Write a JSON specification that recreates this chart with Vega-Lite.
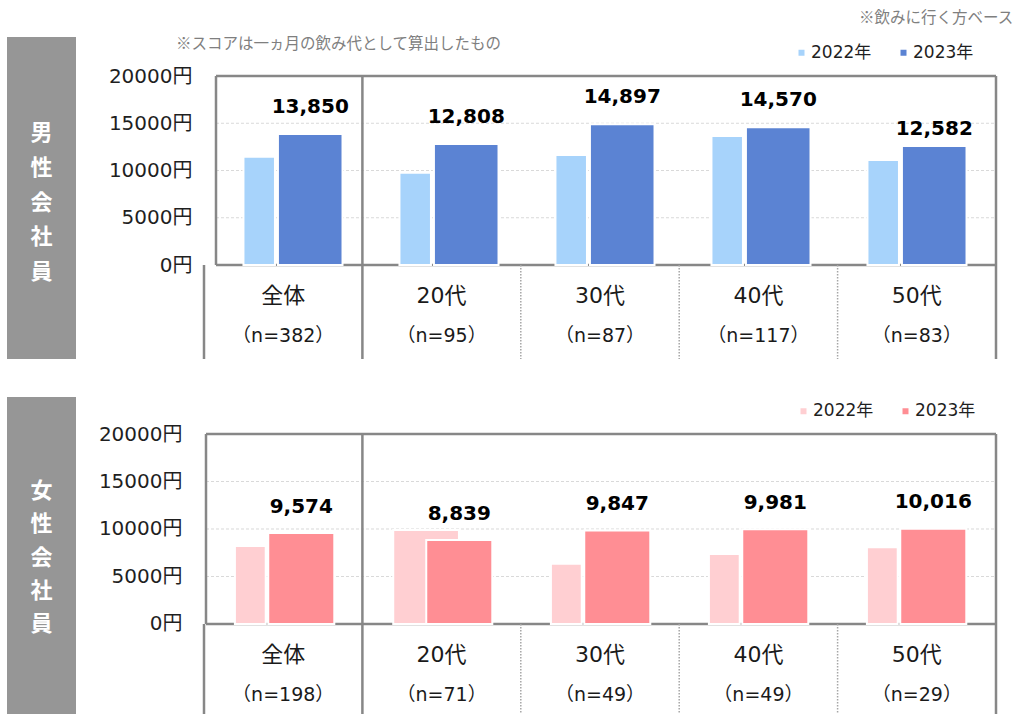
{
  "$schema": "https://vega.github.io/schema/vega-lite/v6.json",
  "autosize": {"type": "pad"},
  "padding": {"left": 7, "top": 11, "right": 5, "bottom": 0},
  "background": "white",
  "config": {
    "view": {"stroke": null},
    "title": {"font": "Noto Sans CJK JP", "fontSize": 15.5, "fontWeight": "normal", "color": "#7f7f7f"}
  },
  "title": {"text": "※飲みに行く方ベース", "anchor": "end", "dx": 16, "offset": 10},
  "datasets": {
    "male": [
      {"cat": "全体", "year": "2022年", "value": 11460},
      {"cat": "全体", "year": "2023年", "value": 13850},
      {"cat": "20代", "year": "2022年", "value": 9770},
      {"cat": "20代", "year": "2023年", "value": 12808},
      {"cat": "30代", "year": "2022年", "value": 11640},
      {"cat": "30代", "year": "2023年", "value": 14897},
      {"cat": "40代", "year": "2022年", "value": 13650},
      {"cat": "40代", "year": "2023年", "value": 14570},
      {"cat": "50代", "year": "2022年", "value": 11110},
      {"cat": "50代", "year": "2023年", "value": 12582}
    ],
    "female": [
      {"cat": "全体", "year": "2022年", "value": 8210},
      {"cat": "全体", "year": "2023年", "value": 9574},
      {"cat": "20代", "year": "2022年", "value": 9890},
      {"cat": "20代", "year": "2023年", "value": 8839},
      {"cat": "30代", "year": "2022年", "value": 6350},
      {"cat": "30代", "year": "2023年", "value": 9847},
      {"cat": "40代", "year": "2022年", "value": 7370},
      {"cat": "40代", "year": "2023年", "value": 9981},
      {"cat": "50代", "year": "2022年", "value": 8070},
      {"cat": "50代", "year": "2023年", "value": 10016}
    ],
    "maleCats": [
      {"cat": "全体", "nlabel": "（n=382）"},
      {"cat": "20代", "nlabel": "（n=95）"},
      {"cat": "30代", "nlabel": "（n=87）"},
      {"cat": "40代", "nlabel": "（n=117）"},
      {"cat": "50代", "nlabel": "（n=83）"}
    ],
    "femaleCats": [
      {"cat": "全体", "nlabel": "（n=198）"},
      {"cat": "20代", "nlabel": "（n=71）"},
      {"cat": "30代", "nlabel": "（n=49）"},
      {"cat": "40代", "nlabel": "（n=49）"},
      {"cat": "50代", "nlabel": "（n=29）"}
    ]
  },
  "spacing": 36,
  "resolve": {"scale": {"color": "independent"}},
  "vconcat": [
    {
      "hconcat": [
        {
          "width": 69, "height": 283,
          "data": {"values": [{"label": "男性会社員"}]},
          "transform": [{"calculate": "split(datum.label, '')", "as": "chars"}],
          "layer": [
            {"mark": {"type": "rect", "color": "#969696"},
             "encoding": {"y": {"datum": 24130, "type": "quantitative", "scale": {"domain": [-9947, 20000], "nice": false, "zero": false}, "axis": null}, "y2": {"datum": -9947}}},
            {"mark": {"type": "text", "font": "Noto Sans CJK JP", "fontSize": 22, "fontWeight": "bold", "color": "white", "lineHeight": 34.6, "baseline": "middle", "align": "center"},
             "encoding": {"y": {"datum": 13930, "type": "quantitative"}, "text": {"field": "chars", "type": "nominal"}}}
          ]
        },
        {
          "width": 792, "height": 283,
          "title": {"text": "※スコアは一ヵ月の飲み代として算出したもの", "anchor": "start", "frame": "group", "dx": -28, "dy": -13.5, "offset": 0},
          "resolve": {"scale": {"x": "independent"}},
          "layer": [
            {
              "data": {"name": "male"},
              "layer": [
                {"data": {"values": [{}]}, "mark": {"type": "rule", "color": "#d9d9d9", "strokeDash": [3, 2], "strokeWidth": 1},
                 "encoding": {
                   "y": {"datum": 5000, "type": "quantitative", "scale": {"domain": [-9947, 20000], "nice": false, "zero": false},
                         "axis": {"values": [0, 5000, 10000, 15000, 20000], "labelExpr": "datum.value + '円'", "domain": false, "ticks": false, "grid": false, "title": null, "labelPadding": 12, "labelFontSize": 20, "labelFont": "DejaVu Sans, Noto Sans CJK JP", "labelColor": "#1f1f1f"}},
                   "x": {"datum": "全体", "type": "nominal", "bandPosition": 0, "scale": {"type": "band", "domain": ["全体", "20代", "30代", "40代", "50代"], "paddingInner": 0, "paddingOuter": 0.03846, "align": 1}, "axis": null},
                   "x2": {"datum": "50代", "bandPosition": 1}}},
                {"data": {"values": [{}]}, "mark": {"type": "rule", "color": "#d9d9d9", "strokeDash": [3, 2], "strokeWidth": 1},
                 "encoding": {"y": {"datum": 10000, "type": "quantitative"}, "x": {"datum": "全体", "type": "nominal", "bandPosition": 0, "scale": {"type": "band"}}, "x2": {"datum": "50代", "bandPosition": 1}}},
                {"data": {"values": [{}]}, "mark": {"type": "rule", "color": "#d9d9d9", "strokeDash": [3, 2], "strokeWidth": 1},
                 "encoding": {"y": {"datum": 15000, "type": "quantitative"}, "x": {"datum": "全体", "type": "nominal", "bandPosition": 0, "scale": {"type": "band"}}, "x2": {"datum": "50代", "bandPosition": 1}}},
                {"data": {"values": [{}]}, "mark": {"type": "rule", "color": "#878787", "strokeWidth": 2.5},
                 "encoding": {"y": {"datum": 20000, "type": "quantitative"}, "x": {"datum": "全体", "type": "nominal", "bandPosition": 0, "scale": {"type": "band"}}, "x2": {"datum": "50代", "bandPosition": 1}}},
                {"data": {"values": [{}]}, "mark": {"type": "rule", "color": "#878787", "strokeWidth": 2.5},
                 "encoding": {"y": {"datum": 0, "type": "quantitative"}, "x": {"datum": "全体", "type": "nominal", "bandPosition": 0, "scale": {"type": "band"}}, "x2": {"datum": "50代", "bandPosition": 1}}},
                {"data": {"values": [{}]}, "mark": {"type": "rule", "color": "#878787", "strokeWidth": 2.5},
                 "encoding": {"x": {"datum": "全体", "type": "nominal", "bandPosition": 0, "scale": {"type": "band"}}, "y": {"datum": 0, "type": "quantitative"}, "y2": {"datum": 20000}}},
                {"transform": [{"filter": "datum.year === '2022年'"}],
                 "mark": {"type": "rect", "stroke": "white", "strokeWidth": 2},
                 "encoding": {
                   "x": {"field": "cat", "type": "nominal", "bandPosition": 0.176, "scale": {"type": "band"}},
                   "x2": {"field": "cat", "bandPosition": 0.378},
                   "y": {"field": "value", "type": "quantitative"}, "y2": {"datum": 0},
                   "color": {"field": "year", "type": "nominal", "scale": {"domain": ["2022年", "2023年"], "range": ["#A7D3FB", "#5B83D3"]},
                             "legend": {"orient": "none", "legendX": 786, "legendY": -32, "direction": "horizontal", "title": null, "symbolType": "square", "symbolSize": 36, "symbolStrokeWidth": 0, "labelFontSize": 17, "labelFont": "DejaVu Sans, Noto Sans CJK JP", "labelColor": "#1f1f1f", "labelOffset": 1, "columnPadding": 23, "padding": 0}}}},
                {"transform": [{"filter": "datum.year === '2023年'"}],
                 "mark": {"type": "rect", "stroke": "white", "strokeWidth": 2},
                 "encoding": {
                   "x": {"field": "cat", "type": "nominal", "bandPosition": 0.397, "scale": {"type": "band"}},
                   "x2": {"field": "cat", "bandPosition": 0.811},
                   "y": {"field": "value", "type": "quantitative"}, "y2": {"datum": 0},
                   "color": {"field": "year", "type": "nominal"}}},
                {"transform": [{"filter": "datum.year === '2023年' && datum.cat !== '50代'"}],
                 "mark": {"type": "text", "font": "DejaVu Sans", "fontSize": 20, "fontWeight": "bold", "color": "#000000", "baseline": "alphabetic", "dy": -21},
                 "encoding": {"x": {"field": "cat", "type": "nominal", "bandPosition": 0.604, "scale": {"type": "band"}}, "y": {"field": "value", "type": "quantitative"}, "text": {"field": "value", "type": "quantitative", "format": ","}}},
                {"transform": [{"filter": "datum.year === '2023年' && datum.cat === '50代'"}],
                 "mark": {"type": "text", "font": "DejaVu Sans", "fontSize": 20, "fontWeight": "bold", "color": "#000000", "baseline": "alphabetic", "dy": -11},
                 "encoding": {"x": {"field": "cat", "type": "nominal", "bandPosition": 0.604, "scale": {"type": "band"}}, "y": {"field": "value", "type": "quantitative"}, "text": {"field": "value", "type": "quantitative", "format": ","}}}
              ]
            },
            {
              "data": {"name": "maleCats"},
              "layer": [
                {"data": {"values": [{}]}, "mark": {"type": "rule", "color": "#878787", "strokeWidth": 2.5},
                 "encoding": {"x": {"datum": "全体", "type": "nominal", "bandPosition": 0, "scale": {"type": "band", "domain": ["全体", "20代", "30代", "40代", "50代"], "paddingInner": 0, "paddingOuter": 0}, "axis": null}, "y": {"datum": 0, "type": "quantitative"}, "y2": {"datum": -9947}}},
                {"data": {"values": [{}]}, "mark": {"type": "rule", "color": "#878787", "strokeWidth": 2.5},
                 "encoding": {"x": {"datum": "20代", "type": "nominal", "bandPosition": 0, "scale": {"type": "band"}}, "y": {"datum": 20000, "type": "quantitative"}, "y2": {"datum": -9947}}},
                {"data": {"values": [{}]}, "mark": {"type": "rule", "color": "#878787", "strokeWidth": 2.5},
                 "encoding": {"x": {"datum": "50代", "type": "nominal", "bandPosition": 1, "scale": {"type": "band"}}, "y": {"datum": 20000, "type": "quantitative"}, "y2": {"datum": -9947}}},
                {"transform": [{"filter": "datum.cat !== '全体' && datum.cat !== '20代'"}],
                 "mark": {"type": "rule", "color": "#a6a6a6", "strokeWidth": 1.5, "strokeDash": [1.5, 1.5]},
                 "encoding": {"x": {"field": "cat", "type": "nominal", "bandPosition": 0, "scale": {"type": "band"}}, "y": {"datum": 0, "type": "quantitative"}, "y2": {"datum": -9947}}},
                {"mark": {"type": "text", "font": "DejaVu Sans, Noto Sans CJK JP", "fontSize": 22, "color": "#1a1a1a", "baseline": "middle", "dy": 31},
                 "encoding": {"x": {"field": "cat", "type": "nominal", "scale": {"type": "band"}}, "y": {"datum": 0, "type": "quantitative"}, "text": {"field": "cat", "type": "nominal"}}},
                {"mark": {"type": "text", "font": "DejaVu Sans, Noto Sans CJK JP", "fontSize": 19, "color": "#1a1a1a", "baseline": "middle", "dy": 71},
                 "encoding": {"x": {"field": "cat", "type": "nominal", "scale": {"type": "band"}}, "y": {"datum": 0, "type": "quantitative"}, "text": {"field": "nlabel", "type": "nominal"}}}
              ]
            }
          ]
        }
      ],
      "spacing": 128,
      "bounds": "flush"
    },
    {
      "hconcat": [
        {
          "width": 69, "height": 281,
          "data": {"values": [{"label": "女性会社員"}]},
          "transform": [{"calculate": "split(datum.label, '')", "as": "chars"}],
          "layer": [
            {"mark": {"type": "rect", "color": "#969696"},
             "encoding": {"y": {"datum": 23890, "type": "quantitative", "scale": {"domain": [-9579, 20000], "nice": false, "zero": false}, "axis": null}, "y2": {"datum": -9579}}},
            {"mark": {"type": "text", "font": "Noto Sans CJK JP", "fontSize": 22, "fontWeight": "bold", "color": "white", "lineHeight": 33.4, "baseline": "middle", "align": "center"},
             "encoding": {"y": {"datum": 14020, "type": "quantitative"}, "text": {"field": "chars", "type": "nominal"}}}
          ]
        },
        {
          "width": 792, "height": 281,
          "resolve": {"scale": {"x": "independent"}},
          "layer": [
            {
              "data": {"name": "female"},
              "layer": [
                {"data": {"values": [{}]}, "mark": {"type": "rule", "color": "#d9d9d9", "strokeDash": [3, 2], "strokeWidth": 1},
                 "encoding": {
                   "y": {"datum": 5000, "type": "quantitative", "scale": {"domain": [-9579, 20000], "nice": false, "zero": false},
                         "axis": {"values": [0, 5000, 10000, 15000, 20000], "labelExpr": "datum.value + '円'", "domain": false, "ticks": false, "grid": false, "title": null, "labelPadding": 22, "labelFontSize": 20, "labelFont": "DejaVu Sans, Noto Sans CJK JP", "labelColor": "#1f1f1f"}},
                   "x": {"datum": "全体", "type": "nominal", "bandPosition": 0, "scale": {"type": "band", "domain": ["全体", "20代", "30代", "40代", "50代"], "paddingInner": 0, "paddingOuter": 0.00633, "align": 1}, "axis": null},
                   "x2": {"datum": "50代", "bandPosition": 1}}},
                {"data": {"values": [{}]}, "mark": {"type": "rule", "color": "#d9d9d9", "strokeDash": [3, 2], "strokeWidth": 1},
                 "encoding": {"y": {"datum": 10000, "type": "quantitative"}, "x": {"datum": "全体", "type": "nominal", "bandPosition": 0, "scale": {"type": "band"}}, "x2": {"datum": "50代", "bandPosition": 1}}},
                {"data": {"values": [{}]}, "mark": {"type": "rule", "color": "#d9d9d9", "strokeDash": [3, 2], "strokeWidth": 1},
                 "encoding": {"y": {"datum": 15000, "type": "quantitative"}, "x": {"datum": "全体", "type": "nominal", "bandPosition": 0, "scale": {"type": "band"}}, "x2": {"datum": "50代", "bandPosition": 1}}},
                {"data": {"values": [{}]}, "mark": {"type": "rule", "color": "#878787", "strokeWidth": 2.5},
                 "encoding": {"y": {"datum": 20000, "type": "quantitative"}, "x": {"datum": "全体", "type": "nominal", "bandPosition": 0, "scale": {"type": "band"}}, "x2": {"datum": "50代", "bandPosition": 1}}},
                {"data": {"values": [{}]}, "mark": {"type": "rule", "color": "#878787", "strokeWidth": 2.5},
                 "encoding": {"y": {"datum": 0, "type": "quantitative"}, "x": {"datum": "全体", "type": "nominal", "bandPosition": 0, "scale": {"type": "band"}}, "x2": {"datum": "50代", "bandPosition": 1}}},
                {"data": {"values": [{}]}, "mark": {"type": "rule", "color": "#878787", "strokeWidth": 2.5},
                 "encoding": {"x": {"datum": "全体", "type": "nominal", "bandPosition": 0, "scale": {"type": "band"}}, "y": {"datum": 0, "type": "quantitative"}, "y2": {"datum": 20000}}},
                {"transform": [{"filter": "datum.year === '2022年' && datum.cat !== '20代'"}],
                 "mark": {"type": "rect", "stroke": "white", "strokeWidth": 2},
                 "encoding": {
                   "x": {"field": "cat", "type": "nominal", "bandPosition": 0.183, "scale": {"type": "band"}},
                   "x2": {"field": "cat", "bandPosition": 0.378},
                   "y": {"field": "value", "type": "quantitative"}, "y2": {"datum": 0},
                   "color": {"field": "year", "type": "nominal", "scale": {"domain": ["2022年", "2023年"], "range": ["#FFCFD2", "#FF8E94"]},
                             "legend": {"orient": "none", "legendX": 788, "legendY": -31.5, "direction": "horizontal", "title": null, "symbolType": "square", "symbolSize": 36, "symbolStrokeWidth": 0, "labelFontSize": 17, "labelFont": "DejaVu Sans, Noto Sans CJK JP", "labelColor": "#1f1f1f", "labelOffset": 1, "columnPadding": 23, "padding": 0}}}},
                {"transform": [{"filter": "datum.year === '2022年' && datum.cat === '20代'"}],
                 "mark": {"type": "rect", "stroke": "white", "strokeWidth": 2},
                 "encoding": {
                   "x": {"field": "cat", "type": "nominal", "bandPosition": 0.185, "scale": {"type": "band"}},
                   "x2": {"field": "cat", "bandPosition": 0.601},
                   "y": {"field": "value", "type": "quantitative"}, "y2": {"datum": 0},
                   "color": {"field": "year", "type": "nominal"}}},
                {"transform": [{"filter": "datum.year === '2023年'"}],
                 "mark": {"type": "rect", "stroke": "white", "strokeWidth": 2},
                 "encoding": {
                   "x": {"field": "cat", "type": "nominal", "bandPosition": 0.394, "scale": {"type": "band"}},
                   "x2": {"field": "cat", "bandPosition": 0.812},
                   "y": {"field": "value", "type": "quantitative"}, "y2": {"datum": 0},
                   "color": {"field": "year", "type": "nominal"}}},
                {"transform": [{"filter": "datum.year === '2023年'"}],
                 "mark": {"type": "text", "font": "DejaVu Sans", "fontSize": 20, "fontWeight": "bold", "color": "#000000", "baseline": "alphabetic", "dy": -20.5},
                 "encoding": {"x": {"field": "cat", "type": "nominal", "bandPosition": 0.603, "scale": {"type": "band"}}, "y": {"field": "value", "type": "quantitative"}, "text": {"field": "value", "type": "quantitative", "format": ","}}}
              ]
            },
            {
              "data": {"name": "femaleCats"},
              "layer": [
                {"data": {"values": [{}]}, "mark": {"type": "rule", "color": "#878787", "strokeWidth": 2.5},
                 "encoding": {"x": {"datum": "全体", "type": "nominal", "bandPosition": 0, "scale": {"type": "band", "domain": ["全体", "20代", "30代", "40代", "50代"], "paddingInner": 0, "paddingOuter": 0}, "axis": null}, "y": {"datum": 0, "type": "quantitative"}, "y2": {"datum": -9579}}},
                {"data": {"values": [{}]}, "mark": {"type": "rule", "color": "#878787", "strokeWidth": 2.5},
                 "encoding": {"x": {"datum": "20代", "type": "nominal", "bandPosition": 0, "scale": {"type": "band"}}, "y": {"datum": 20000, "type": "quantitative"}, "y2": {"datum": -9579}}},
                {"data": {"values": [{}]}, "mark": {"type": "rule", "color": "#878787", "strokeWidth": 2.5},
                 "encoding": {"x": {"datum": "50代", "type": "nominal", "bandPosition": 1, "scale": {"type": "band"}}, "y": {"datum": 20000, "type": "quantitative"}, "y2": {"datum": -9579}}},
                {"transform": [{"filter": "datum.cat !== '全体' && datum.cat !== '20代'"}],
                 "mark": {"type": "rule", "color": "#a6a6a6", "strokeWidth": 1.5, "strokeDash": [1.5, 1.5]},
                 "encoding": {"x": {"field": "cat", "type": "nominal", "bandPosition": 0, "scale": {"type": "band"}}, "y": {"datum": 0, "type": "quantitative"}, "y2": {"datum": -9579}}},
                {"mark": {"type": "text", "font": "DejaVu Sans, Noto Sans CJK JP", "fontSize": 22, "color": "#1a1a1a", "baseline": "middle", "dy": 31},
                 "encoding": {"x": {"field": "cat", "type": "nominal", "scale": {"type": "band"}}, "y": {"datum": 0, "type": "quantitative"}, "text": {"field": "cat", "type": "nominal"}}},
                {"mark": {"type": "text", "font": "DejaVu Sans, Noto Sans CJK JP", "fontSize": 19, "color": "#1a1a1a", "baseline": "middle", "dy": 71},
                 "encoding": {"x": {"field": "cat", "type": "nominal", "scale": {"type": "band"}}, "y": {"datum": 0, "type": "quantitative"}, "text": {"field": "nlabel", "type": "nominal"}}}
              ]
            }
          ]
        }
      ],
      "spacing": 128,
      "bounds": "flush"
    }
  ]
}
